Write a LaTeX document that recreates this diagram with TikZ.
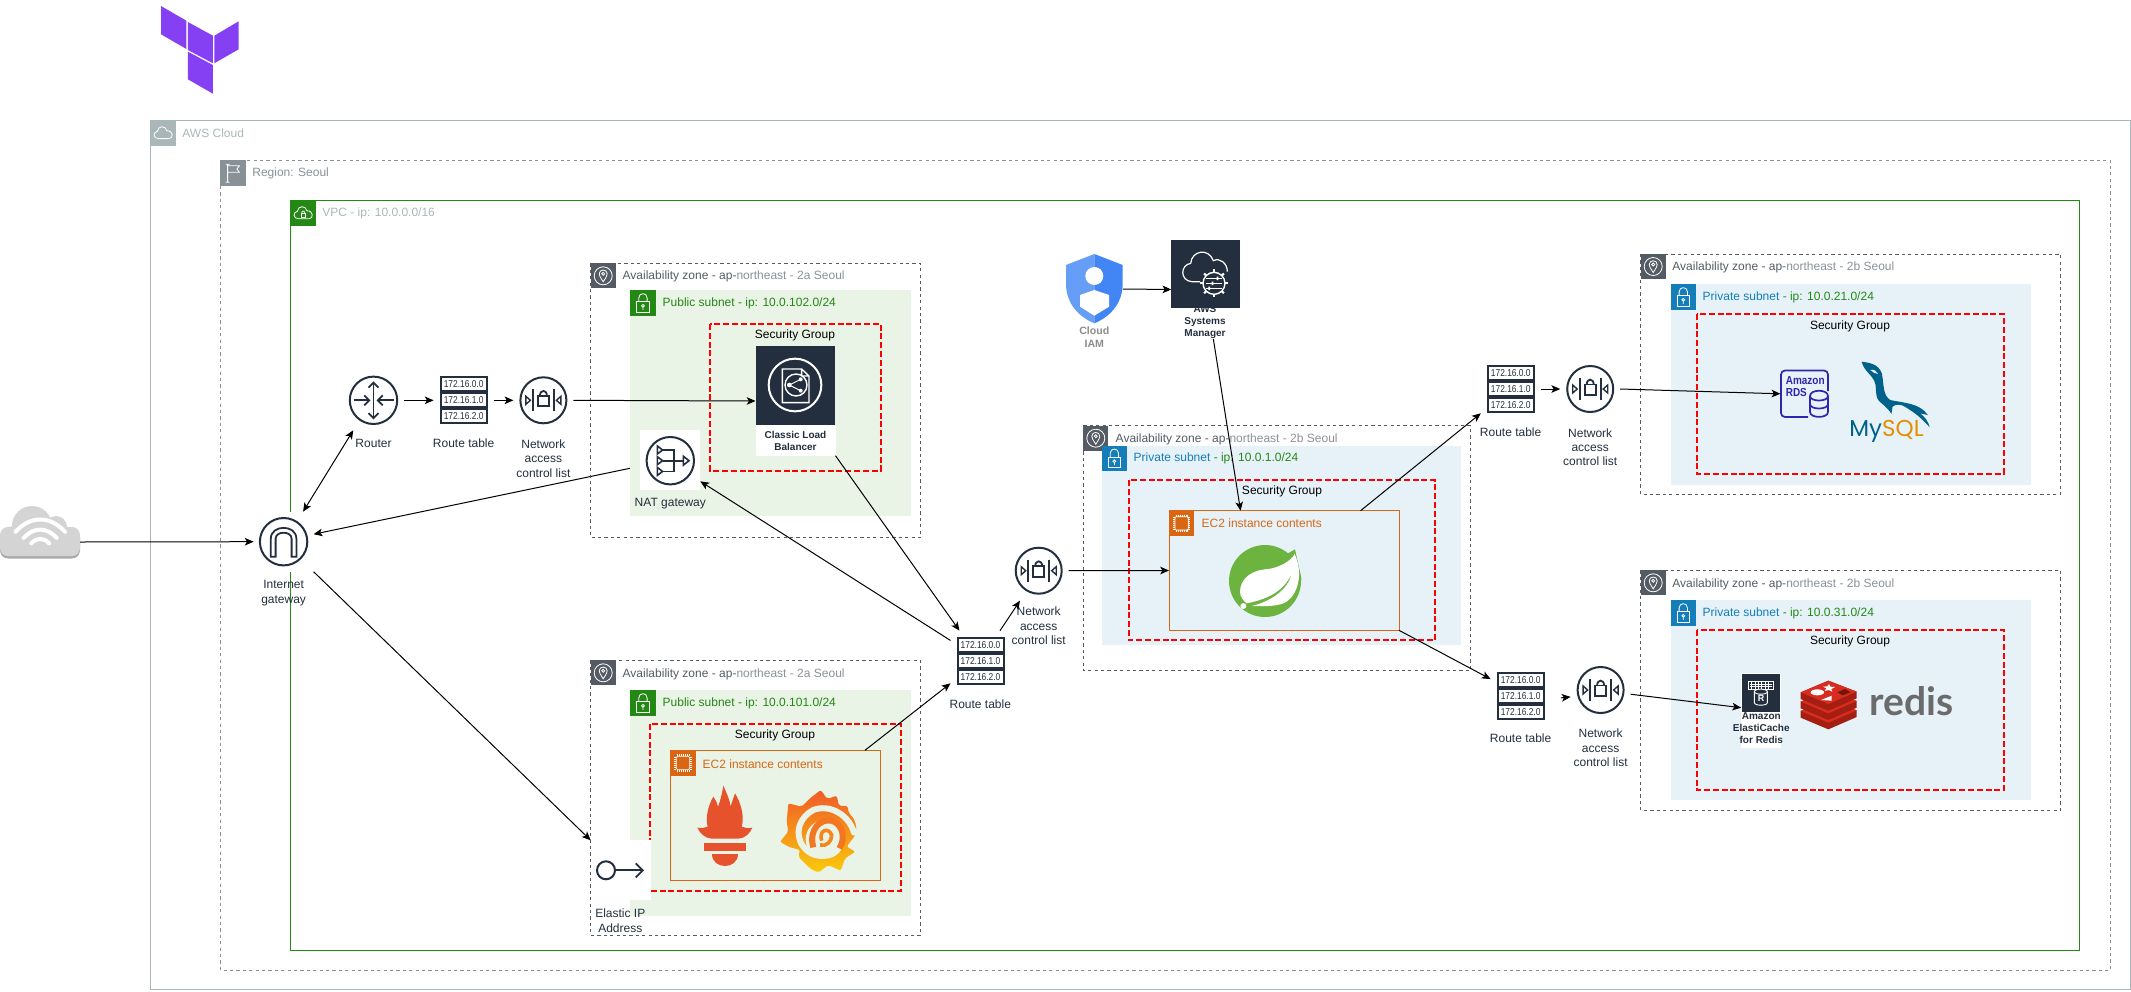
\documentclass[tikz,border=0pt]{standalone}
\usepackage{fontspec}
\setmainfont{Liberation Sans}
\newfontfamily\rtfont[FakeStretch=.84]{Liberation Sans}
\newfontfamily\condfont[FakeStretch=.86]{Liberation Sans}
\newfontfamily\logofont{Lato}
\newfontfamily\mysqlfont{Poppins}
\usetikzlibrary{arrows.meta}
\definecolor{ink}{HTML}{232F3E}
\definecolor{awsc}{HTML}{AAB7B8}
\definecolor{regc}{HTML}{879196}
\definecolor{vpcg}{HTML}{248814}
\definecolor{azc}{HTML}{545B64}
\definecolor{azl}{HTML}{8A9199}
\definecolor{pubf}{HTML}{E9F3E6}
\definecolor{prvf}{HTML}{E6F2F8}
\definecolor{prvb}{HTML}{147EBA}
\definecolor{ecc}{HTML}{D86613}
\definecolor{rdsc}{HTML}{2E27AD}
\definecolor{promc}{HTML}{E6522C}
\definecolor{redt}{HTML}{D82C20}
\definecolor{reds}{HTML}{A41E11}
\definecolor{mysb}{HTML}{00618A}
\definecolor{myso}{HTML}{E48E00}
\definecolor{tfp}{HTML}{8440F2}
\definecolor{gyel}{HTML}{FBCA0A}
\definecolor{gora}{HTML}{F05A28}
\tikzset{
 bx/.style 2 args={minimum width=#1*.5pt,minimum height=#2*.5pt,inner sep=0pt,outer sep=0pt},
 conn/.style={-{Stealth[length=4.4pt,width=3.8pt,inset=1.1pt]},line width=.5pt,black},
 biconn/.style={{Stealth[length=4.4pt,width=3.8pt,inset=1.1pt]}-{Stealth[length=4.4pt,width=3.8pt,inset=1.1pt]},line width=.5pt,black},
 txt/.style={font=\fontsize{6}{7.2}\selectfont,inner sep=0pt,align=center},
 ttl/.style={font=\fontsize{6}{7.2}\selectfont,inner sep=0pt,anchor=west},
 lab/.style={font=\fontsize{6}{7.2}\selectfont,inner sep=0pt,align=center,text=ink},
 blab/.style={font=\fontsize{5}{6}\selectfont\bfseries,inner sep=0pt,align=center,text=ink},
 azframe/.style={draw=azc,line width=.5pt,dash pattern=on 1.6pt off 1.6pt},
 sgframe/.style={draw=red,line width=1pt,dash pattern=on 3pt off 1.4pt},
 ic/.style={draw=ink,line width=1pt},
 icn/.style={draw=ink,line width=.9pt},
 gw/.style={draw=white,line width=.4pt},
 rtrow/.style={draw=ink,line width=1pt,fill=white,minimum width=23pt,minimum height=6.9pt,inner sep=0pt,font=\fontsize{5}{5}\rtfont,text=ink},
 pics/rtable/.style={code={
   \foreach \rr/\yy in {0/-16,1/0,2/16}{\node[rtrow] (-r\rr) at (0,\yy) {172.16.\rr.0};}
 }},
 pics/naclicon/.style={code={
   \draw[ic] (0,0) circle[radius=23];
   \draw[icn] (-10.5,-11) -- (-10.5,11) (10.5,-11) -- (10.5,11);
   \draw[icn] (-5.5,-4.5) rectangle (5.5,6);
   \draw[icn] (-3.5,-4.5) .. controls (-3.5,-11) and (3.5,-11) .. (3.5,-4.5);
   \draw[icn,line width=.7pt] (-17.5,-4) -- (-13,0) -- (-17.5,4) -- cycle (17.5,-4) -- (13,0) -- (17.5,4) -- cycle;
 }},
 pics/routericon/.style={code={
   \draw[ic] (0,0) circle[radius=23.7];
   \draw[icn,-{Straight Barb[length=2.5pt,width=5pt]}] (-20,0) -- (-3,0);
   \draw[icn,-{Straight Barb[length=2.5pt,width=5pt]}] (20,0) -- (3,0);
   \draw[icn,{Straight Barb[length=2.5pt,width=5pt]}-{Straight Barb[length=2.5pt,width=5pt]}] (0,-19) -- (0,19);
 }},
 pics/igwicon/.style={code={
   \draw[ic] (0,0) circle[radius=23.7];
   \draw[icn] (-12.8,15) -- (-12.8,-3) .. controls (-12.8,-17.5) and (12.8,-17.5) .. (12.8,-3) -- (12.8,15) -- (8,15) -- (8,-3) .. controls (8,-11) and (-8,-11) .. (-8,-3) -- (-8,15) -- cycle;
 }},
 pics/naticon/.style={code={
   \draw[ic] (0,0) circle[radius=23.7];
   \draw[icn,line width=.8pt] (-7.7,-10.7) -- (3.7,-10.7) -- (3.7,10.7) -- (-7.7,10.7) (-7.7,0) -- (13,0);
   \foreach \yy in {-10.7,0,10.7}{\draw[icn,line width=.8pt] (-13,\yy-4) -- (-7.7,\yy) -- (-13,\yy+4) -- cycle;}
   \draw[icn,line width=.8pt] (13,-4.5) -- (18.7,0) -- (13,4.5) -- cycle;
 }},
 pics/gcloud/.style={code={
   \draw[gw] (8,18.3) .. controls (2.5,18.3) and (2.5,11.5) .. (7,11) .. controls (7.5,5) and (15.5,5) .. (16.5,10.5) .. controls (23,10) and (23.5,18.3) .. (18.5,18.3) -- cycle;
 }},
 pics/gflag/.style={code={
   \draw[gw] (7.2,4) -- (7.2,22) (5.2,22) -- (9.2,22) (5.2,4) -- (9.2,4) (7.2,5.5) -- (19,5.5) -- (16.5,8.7) -- (19,12) -- (7.2,12);
 }},
 pics/gvpc/.style={code={
   \draw[gw] (8,18.5) .. controls (2.5,18.5) and (2.5,11.5) .. (7,11) .. controls (7.5,5) and (15.5,5) .. (16.5,10.5) .. controls (23,10) and (23.5,18.5) .. (18.5,18.5) -- cycle;
   \draw[gw] (10.5,13) rectangle (15,17);
   \draw[gw] (11.3,13) .. controls (11.3,10) and (14.2,10) .. (14.2,13);
 }},
 pics/gpin/.style={code={
   \draw[gw] (12.5,12.5) circle[radius=9];
   \draw[gw] (12.5,18.5) .. controls (9.5,14) and (8.5,12) .. (8.5,10.5) .. controls (8.5,5.5) and (16.5,5.5) .. (16.5,10.5) .. controls (16.5,12) and (15.5,14) .. (12.5,18.5) -- cycle;
   \draw[gw] (12.5,10.5) circle[radius=1.5];
 }},
 pics/glock/.style={code={
   \draw[gw] (6.3,11.3) rectangle (19,22);
   \draw[gw] (8.5,11.3) -- (8.5,7.5) .. controls (8.5,2) and (16.8,2) .. (16.8,7.5) -- (16.8,11.3);
   \draw[gw] (12.7,15.5) circle[radius=1.4] (12.7,17) -- (12.7,19.5);
 }},
 pics/gchip/.style={code={
   \draw[white,line width=.35pt,rounded corners=.6pt] (6,6) rectangle (19.3,19.3);
   \foreach \p in {7,9,11,13,15,17,18.5}{\draw[white,line width=.25pt] (\p,4) -- (\p,6) (\p,19.3) -- (\p,21.3) (4,\p) -- (6,\p) (19.3,\p) -- (21.3,\p);}
 }}
}
\newcommand{\Bx}[5]{\node[bx={#4}{#5}] (#1) at (#2,#3) {};}
\begin{document}
\begin{tikzpicture}[x=.5pt,y=-.5pt]
\useasboundingbox (0,0) rectangle (2131,991);
% invisible connection boxes
\Bx{cloud}{40}{542}{80}{70}
\Bx{igw}{283.6}{541.7}{60}{60}
\Bx{router}{373.5}{400.3}{60}{60}
\Bx{rta}{463.6}{400.3}{60}{60}
\Bx{nacla}{543.4}{400.3}{60}{60}
\Bx{clb}{795.5}{401}{80}{109.4}
\Bx{nat}{670.3}{460.3}{60}{60}
\Bx{eip}{620.7}{870.3}{60}{60}
\Bx{ecmon}{775.5}{815.3}{210.4}{130}
\Bx{rtb}{980.5}{660.7}{60}{60}
\Bx{naclb}{1038.7}{570.7}{60}{60}
\Bx{ecapp}{1284}{570.5}{230}{119.6}
\Bx{iam}{1094.4}{289}{57}{70}
\Bx{ssm}{1205.5}{289.5}{68.4}{99}
\Bx{rtc}{1510.8}{389}{60}{60}
\Bx{naclc}{1590.2}{389}{60}{60}
\Bx{rds}{1804.7}{393.8}{48.6}{47.7}
\Bx{rtd}{1520.6}{695.7}{60}{60}
\Bx{nacld}{1600.6}{690}{60}{60}
\Bx{elasti}{1761.1}{710.5}{40}{74.4}
% terraform
\fill[tfp] (161,6) -- (186.4,20.7) -- (186.4,49) -- (161,34.3) -- cycle;
\fill[tfp] (187.9,22) -- (212.9,35.7) -- (212.9,63.3) -- (187.9,50) -- cycle;
\fill[tfp] (214.3,35.7) -- (238.6,21.3) -- (238.6,49.3) -- (214.3,63.3) -- cycle;
\fill[tfp] (187.9,51.7) -- (212.9,65) -- (212.9,93.7) -- (187.9,79.3) -- cycle;
% frames
\draw[awsc,line width=.5pt] (150.4,120.3) rectangle (2130,989.5);
\fill[awsc] (150.4,120.3) rectangle ++(25.3,25.3);
\pic at (150.4,120.3) {gcloud};
\node[ttl,text=awsc] (tawscloud) at (182,133.7) {AWS Cloud};
\draw[regc,line width=.5pt,dash pattern=on 1.6pt off 1.6pt] (220.4,160.3) rectangle (2110.5,970);
\fill[regc] (220.4,160.3) rectangle ++(25.3,25.3);
\pic at (220.4,160.3) {gflag};
\node[ttl,text=regc] (tregion) at (252,173.7) {Region: Seoul};
\draw[vpcg,line width=.5pt] (290.4,200.3) rectangle (2079,950);
\fill[vpcg] (290.4,200.3) rectangle ++(25.3,25.3);
\pic at (290.4,200.3) {gvpc};
\node[ttl,text=awsc] (tvpc) at (322,213.7) {VPC - ip: 10.0.0.0/16};
% connector that runs beneath the public subnet
\draw[conn] (nat.191) -- (igw.14);
% AZ 1 public 102
\draw[azframe] (590.7,263.3) rectangle (920.3,537.7);
\fill[azc] (590.7,263.3) rectangle ++(25,25);
\pic at (590.7,263.3) {gpin};
\node[ttl] (taza) at (622.3,276.7) {\textcolor{azc}{Availability zone - ap-}\textcolor{azl}{northeast - 2a Seoul}};
\fill[pubf] (630.3,290.3) rectangle (910.7,515.7);
\fill[vpcg] (630.3,290.3) rectangle ++(25.3,25.3);
\pic at (630.3,290.3) {glock};
\node[ttl,text=vpcg] (tsuba) at (662.3,303.7) {Public subnet - ip: 10.0.102.0/24};
\draw[sgframe] (710.3,324) rectangle (881,470.7);
\node[txt] (tsga) at (795,335.7) {Security Group};
% AZ 2 public 101
\draw[azframe] (590.7,660.3) rectangle (920.3,935.3);
\fill[azc] (590.7,660.3) rectangle ++(25,25);
\pic at (590.7,660.3) {gpin};
\node[ttl] (tazb) at (622.3,674) {\textcolor{azc}{Availability zone - ap-}\textcolor{azl}{northeast - 2a Seoul}};
\fill[pubf] (630.3,690.3) rectangle (910.7,915.7);
\fill[vpcg] (630.3,690.3) rectangle ++(25.3,25.3);
\pic at (630.3,690.3) {glock};
\node[ttl,text=vpcg] (tsubb) at (662.3,703.7) {Public subnet - ip: 10.0.101.0/24};
\draw[sgframe] (650.3,724) rectangle (901,890.7);
\node[txt] (tsgb) at (775,735.7) {Security Group};
\draw[ecc,line width=.5pt] (670.3,750.3) rectangle (880.7,880.3);
\fill[ecc] (670.3,750.3) rectangle ++(25.3,25.3);
\pic at (670.3,750.3) {gchip};
\node[ttl,text=ecc] (tecb) at (702.3,763.7) {EC2 instance contents};
% AZ 3 centre
\draw[azframe] (1083.3,425.7) rectangle (1470.5,670.5);
\fill[azc] (1083.3,425.7) rectangle ++(25,25);
\pic at (1083.3,425.7) {gpin};
\node[ttl] (tazc) at (1115.3,439) {\textcolor{azc}{Availability zone - ap-}\textcolor{azl}{northeast - 2b Seoul}};
\fill[prvf] (1101.7,445.7) rectangle (1461,645);
\fill[prvb] (1101.7,445.7) rectangle ++(25.3,25.3);
\pic at (1101.7,445.7) {glock};
\node[ttl] (tsubc) at (1133.3,458.7) {\textcolor{prvb}{Private subnet} \textcolor{vpcg}{- ip: 10.0.1.0/24}};
\draw[sgframe] (1129,480.3) rectangle (1435,640.3);
\node[txt] (tsgc) at (1282,491.7) {Security Group};
\draw[ecc,line width=.5pt] (1169,510.7) rectangle (1399,630.3);
\fill[ecc] (1169,510.7) rectangle ++(25.3,25.3);
\pic at (1169,510.7) {gchip};
\node[ttl,text=ecc] (tecc) at (1201.3,523.7) {EC2 instance contents};
% AZ 4 mysql
\draw[azframe] (1640.7,254) rectangle (2060.5,494.3);
\fill[azc] (1640.7,254) rectangle ++(25,25);
\pic at (1640.7,254) {gpin};
\node[ttl] (tazd) at (1672,267.7) {\textcolor{azc}{Availability zone - ap-}\textcolor{azl}{northeast - 2b Seoul}};
\fill[prvf] (1670.6,284.3) rectangle (2031,484.7);
\fill[prvb] (1670.6,284.3) rectangle ++(25.3,25.3);
\pic at (1670.6,284.3) {glock};
\node[ttl] (tsubd) at (1702.3,297.7) {\textcolor{prvb}{Private subnet} \textcolor{vpcg}{- ip: 10.0.21.0/24}};
\draw[sgframe] (1697,313.7) rectangle (2003.5,473.7);
\node[txt] (tsgd) at (1850,326) {Security Group};
% AZ 5 redis
\draw[azframe] (1640.7,570.3) rectangle (2060.5,810.3);
\fill[azc] (1640.7,570.3) rectangle ++(25,25);
\pic at (1640.7,570.3) {gpin};
\node[ttl] (taze) at (1672,584) {\textcolor{azc}{Availability zone - ap-}\textcolor{azl}{northeast - 2b Seoul}};
\fill[prvf] (1670.6,600.3) rectangle (2031,800.3);
\fill[prvb] (1670.6,600.3) rectangle ++(25.3,25.3);
\pic at (1670.6,600.3) {glock};
\node[ttl] (tsube) at (1702.3,613.7) {\textcolor{prvb}{Private subnet} \textcolor{vpcg}{- ip: 10.0.31.0/24}};
\draw[sgframe] (1697,630) rectangle (2003.5,790.3);
\node[txt] (tsge) at (1850,641.7) {Security Group};
% internet cloud
\foreach \cc/\dd in {black!33/2.5,black!17/0}{
 \begin{scope}[yshift=-\dd*.5pt]
 \fill[\cc,rounded corners=4pt] (0,527) rectangle (80,556);
 \fill[\cc] (32,526) circle[radius=20] (56,527) circle[radius=11] (13,538) circle[radius=12];
 \end{scope}}
\foreach \rr in {12,22,33}{\draw[white,line width=2pt,line cap=round] (40.2-\rr*.75,550-\rr*.55) .. controls (40.2-\rr*.3,550-\rr*1.05) and (40.2+\rr*.3,550-\rr*1.05) .. (40.2+\rr*.75,550-\rr*.55);}
% gateway + route icons
\fill[white] (igw.south west) rectangle (igw.north east);
\pic at (283.6,541.7) {igwicon};
\node[lab] (tigw) at (283.6,593) {Internet\\gateway};
\pic at (373.5,400.3) {routericon};
\node[lab] (trouter) at (373.5,443.7) {Router};
\pic (rtai) at (463.6,400.3) {rtable};
\node[lab] (trta) at (463.6,443.7) {Route table};
\pic at (543.4,400.3) {naclicon};
\node[lab] (tnacla) at (543.4,458.4) {Network\\access\\control list};
% CLB
\fill[white] (755.7,425) rectangle (835.7,455.7);
\fill[ink] (756.3,346.3) rectangle (835,425);
\begin{scope}[shift={(580,250)},x=.16667pt,y=-.16667pt]
 \draw[white,line width=1pt] (645,405) circle[radius=79];
 \draw[white,line width=.7pt] (607,357) -- (665,357) -- (687,378) -- (687,458) -- (607,458) -- cycle (665,357) -- (665,378) -- (687,378);
 \filldraw[fill=ink,draw=white,line width=.7pt] (648,405) circle[radius=33];
 \draw[white,line width=.5pt] (628,405) -- (662,388) (628,405) -- (662,422);
 \fill[white] (628,405) circle[radius=7] (662,388) circle[radius=6] (662,422) circle[radius=6];
\end{scope}
\node[blab] (tclb) at (795.5,440.5) {Classic Load\\Balancer};
% NAT
\fill[white] (nat.south west) rectangle (nat.north east);
\pic at (670.3,460.7) {naticon};
\node[lab] (tnat) at (670.3,504) {NAT gateway};
% EC2 monitoring logos
\begin{scope}[shift={(580,650)},x=.16667pt,y=-.16667pt]
 \fill[promc] (352,533) .. controls (365,534) and (375,535) .. (383,530) .. controls (375,505) and (385,465) .. (400,440) .. controls (410,455) and (412,462) .. (414,470) .. controls (422,450) and (426,430) .. (430,407) .. controls (440,430) and (450,450) .. (452,470) .. controls (456,455) and (460,445) .. (465,430) .. controls (480,455) and (495,495) .. (485,530) .. controls (495,535) and (505,535) .. (517,533) .. controls (510,550) and (495,565) .. (475,566) -- (395,566) .. controls (375,565) and (360,550) .. (352,533) -- cycle;
 \fill[promc] (372,578) rectangle (498,602);
 \fill[promc] (396,612) -- (473,612) .. controls (473,660) and (396,660) .. (396,612) -- cycle;
 \shade[top color=gora,bottom color=gyel,rounded corners=1pt] (722,420) -- (742,447) -- (770,437) -- (777,468) -- (803,467) -- (806,490) .. controls (825,505) and (832,530) .. (826,555) -- (800,590) -- (826,605) -- (795,625) -- (782,662) -- (745,645) -- (715,668) -- (690,655) -- (655,620) -- (660,600) -- (625,590) -- (600,575) -- (625,545) -- (620,515) -- (625,460) -- (665,470) -- (690,445) -- cycle;
 \draw[pubf,line width=3pt,line cap=round] (822,548) .. controls (805,490) and (745,462) .. (700,480) .. controls (660,500) and (640,550) .. (670,590) .. controls (695,625) and (745,625) .. (770,600);
 \fill[pubf] (735,568) circle[radius=58];
 \draw[gora!75!gyel,line width=3pt] (700,592) .. controls (685,540) and (720,505) .. (755,512) .. controls (788,522) and (798,565) .. (778,595);
 \draw[gora!60!gyel,line width=1.8pt] (725,572) .. controls (715,540) and (745,530) .. (755,555) .. controls (755,575) and (740,590) .. (720,585);
\end{scope}
% spring
\begin{scope}[shift={(1100,480)},x=.16667pt,y=-.16667pt]
 \definecolor{sprg}{HTML}{6DB33F}
 \fill[sprg] (495,303) circle[radius=108];
 \fill[sprg] (555,225) -- (585,208) -- (605,300) -- cycle;
 \fill[white] (584,222) .. controls (575,240) and (540,265) .. (495,268) .. controls (450,272) and (420,300) .. (420,335) .. controls (420,350) and (430,362) .. (440,370) .. controls (490,360) and (550,340) .. (575,280) .. controls (565,330) and (510,365) .. (455,378) .. controls (500,380) and (540,378) .. (560,365) .. controls (595,340) and (610,280) .. (584,222) -- cycle;
 \fill[white] (430,378) circle[radius=9];
\end{scope}
% IAM + SSM
\begin{scope}[shift={(1040,230)},x=.16667pt,y=-.16667pt]
 \definecolor{iaml}{HTML}{669DF6}\definecolor{iamr}{HTML}{4285F4}
 \fill[iaml] (163,72) -- (78,105) -- (78,165) .. controls (80,225) and (120,262) .. (163,280) -- cycle;
 \fill[iamr] (163,72) -- (248,105) -- (248,165) .. controls (246,225) and (206,262) .. (163,280) -- cycle;
 \fill[white] (163,138) circle[radius=27];
 \fill[white] (163,180) -- (207,195) -- (207,230) -- (163,257) -- (120,230) -- (120,195) -- cycle;
\end{scope}
\node[font=\fontsize{5.3}{6.6}\selectfont\bfseries,inner sep=0pt,align=center,text=black!45] (tiam) at (1094.3,337.5) {Cloud\\IAM};
\node[blab] (tssm) at (1205,322) {AWS\\Systems\\Manager};
\fill[ink] (1171.3,240) rectangle (1239.7,308);
\begin{scope}[shift={(1040,230)},x=.16667pt,y=-.16667pt]
 \draw[white,line width=.6pt] (480,155) -- (455,155) .. controls (420,152) and (420,105) .. (452,100) .. controls (455,62) and (505,52) .. (520,92) .. controls (540,82) and (562,100) .. (562,125);
 \draw[white,line width=.7pt,fill=ink] (522,160) circle[radius=33];
 \foreach \a in {0,45,...,315}{\draw[white,line width=1.1pt] (522,160) ++(\a:33) -- ++(\a:9);}
 \draw[white,line width=.45pt] (497,145) -- (547,145) (497,160) -- (547,160) (497,175) -- (547,175);
 \fill[white] (530,140) rectangle ++(5,10) (515,155) rectangle ++(5,10) (505,170) rectangle ++(5,10);
\end{scope}
% other route / nacl icons
\pic (rtbi) at (980.5,660.7) {rtable};
\node[lab] (trtb) at (980.3,703.7) {Route table};
\pic at (1038.7,570.7) {naclicon};
\node[lab] (tnaclb) at (1038.7,626) {Network\\access\\control list};
\pic (rtci) at (1510.8,389) {rtable};
\node[lab] (trtc) at (1510.6,432.7) {Route table};
\pic at (1590.2,389) {naclicon};
\node[lab] (tnaclc) at (1590.2,447.2) {Network\\access\\control list};
\pic (rtdi) at (1520.6,695.7) {rtable};
\node[lab] (trtd) at (1520.6,738.7) {Route table};
\pic at (1600.6,690) {naclicon};
\node[lab] (tnacld) at (1600.6,748) {Network\\access\\control list};
% EIP
\fill[white] (eip.south west) rectangle (eip.north east);
\draw[ic] (606,870.3) circle[radius=9];
\draw[icn,-{Straight Barb[length=3.5pt,width=7pt]}] (615,870.3) -- (644,870.3);
\node[lab] (teip) at (620.3,920.5) {Elastic IP\\Address};
% RDS
\draw[rdsc,line width=.85pt,rounded corners=2pt] (1828,391) -- (1828,370.5) -- (1781,370.5) -- (1781,417) -- (1808,417);
\node[font=\fontsize{5.8}{6.2}\condfont\bfseries,inner sep=0pt,text=rdsc,anchor=west,align=left] (trds) at (1785.4,386.5) {Amazon\\RDS};
\draw[rdsc,line width=.85pt,fill=prvf] (1810,396) -- (1810,412) .. controls (1810,418.5) and (1828,418.5) .. (1828,412) -- (1828,396) .. controls (1828,389) and (1810,389) .. (1810,396) .. controls (1810,402) and (1828,402) .. (1828,396);
\draw[rdsc,line width=.85pt] (1810,404) .. controls (1810,410) and (1828,410) .. (1828,404);
% MySQL dolphin
\begin{scope}[shift={(1480,250)},x=.19135pt,y=-.16667pt]
 \fill[mysb] (997,335) .. controls (1015,338) and (1040,340) .. (1050,370) .. controls (1056,405) and (1052,435) .. (1072,450) .. controls (1100,458) and (1150,458) .. (1170,495) -- (1150,490) .. controls (1162,500) and (1172,515) .. (1175,532) .. controls (1160,512) and (1140,490) .. (1110,470) .. controls (1100,462) and (1085,462) .. (1078,470) -- (1075,492) .. controls (1065,472) and (1050,462) .. (1042,452) .. controls (1030,435) and (1038,405) .. (1030,392) .. controls (1022,372) and (1005,365) .. (997,335) -- cycle;
 \fill[prvf] (1020,360) .. controls (1030,356) and (1036,364) .. (1040,372) .. controls (1032,370) and (1026,368) .. (1020,360) -- cycle;
\end{scope}
\node[font=\fontsize{11.5}{12}\mysqlfont,inner sep=0pt,anchor=west] (tmysql) at (1849,431) {\textcolor{mysb}{My}\textcolor{myso}{SQL}};
% ElastiCache
\fill[white] (1741,673.3) rectangle (1781.2,747.7);
\fill[ink] (1742,674) rectangle (1780.4,712);
\begin{scope}[shift={(1730,660)},x=.16667pt,y=-.16667pt]
 \draw[white,line width=.35pt] (55,65) rectangle (130,88) (60,72) -- (125,72) (60,80) -- (125,80);
 \foreach \p in {65,75,...,120}{\draw[white,line width=.3pt] (\p,65) -- (\p,88);}
 \draw[white,line width=.45pt,fill=ink] (73,95) .. controls (73,85) and (112,85) .. (112,95) -- (112,128) .. controls (112,138) and (73,138) .. (73,128) -- cycle;
 \draw[white,line width=.45pt] (73,95) .. controls (73,105) and (112,105) .. (112,95);
\end{scope}
\node[font=\fontsize{4.5}{4.5}\selectfont\bfseries,inner sep=0pt,text=white] (tecr) at (1761.2,698) {R};
\node[blab] (telasti) at (1761.3,728) {Amazon\\ElastiCache\\for Redis};
% Redis logo
\begin{scope}[shift={(1730,660)},x=.16667pt,y=-.16667pt]
 \foreach \d in {56,28,0}{
  \fill[reds] (212,97+\d) -- (212,117+\d) -- (295,152+\d) -- (380,115+\d) -- (380,95+\d) -- (295,62+\d) -- cycle;
  \fill[redt] (212,97+\d) -- (295,62+\d) -- (380,95+\d) -- (295,132+\d) -- cycle;
 }
 \fill[white] (262,97) ellipse[x radius=20,y radius=9];
 \fill[white] (297,72) -- (301,80) -- (315,81) -- (304,87) -- (307,95) -- (296,90) -- (284,93) -- (289,85) -- (279,80) -- (292,79) -- cycle;
 \fill[white] (273,120) -- (305,107) -- (305,122) -- cycle;
 \fill[reds!70!black] (322,97) -- (345,87) -- (361,97) -- (338,106) -- cycle;
\end{scope}
\node[font=\fontsize{19.5}{20}\logofont\bfseries,inner sep=0pt,anchor=west,text=black!58] (tredis) at (1869,701) {redis};
% connectors
\draw[conn] (cloud.east) -- (igw.west);
\draw[biconn] (router.236) -- (igw.57.5);
\draw[conn] (router.east) -- (rta.west);
\draw[conn] (rta.east) -- (nacla.west);
\draw[conn] (nacla.east) -- (clb.west);
\draw[conn] (igw.south east) -- (eip.north west);
\draw[conn] (clb.south east) -- (rtb.125.3);
\draw[conn] (rtb.146.3) -- (nat.325.8);
\draw[conn] (ecmon.36.8) -- (rtb.217);
\draw[conn] (rtb.57) -- (naclb.238);
\draw[conn] (naclb.east) -- (ecapp.west);
\draw[conn] (iam.east) -- (ssm.west);
\draw[conn] (ssm.279) -- (ecapp.126.8);
\draw[conn] (ecapp.38.6) -- (rtc.219);
\draw[conn] (ecapp.south east) -- (rtd.151);
\draw[conn] (rtc.east) -- (naclc.west);
\draw[conn] (naclc.east) -- (rds.west);
\draw[conn,shorten <=5.2pt] (rtd.354) -- (nacld.193);
\draw[conn] (nacld.352) -- (elasti.172);
\end{tikzpicture}
\end{document}
